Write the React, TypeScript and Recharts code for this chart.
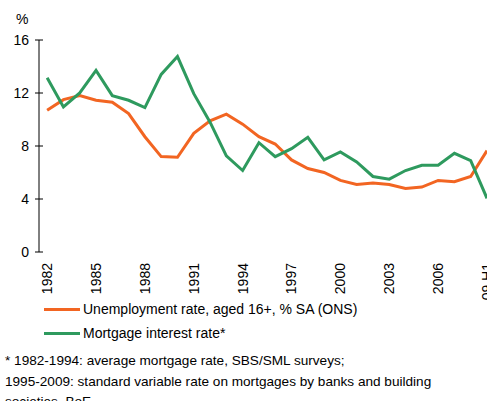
import React from 'react'
import { Line, LineChart, XAxis, YAxis } from 'recharts'

// Unemployment vs mortgage rate, UK, annual 1982-2008 plus 2009 H1
const years = [
  1982, 1983, 1984, 1985, 1986, 1987, 1988, 1989, 1990, 1991, 1992, 1993, 1994, 1995,
  1996, 1997, 1998, 1999, 2000, 2001, 2002, 2003, 2004, 2005, 2006, 2007, 2008, 2009,
]
const unemployment = [
  10.7, 11.5, 11.8, 11.45, 11.3, 10.45, 8.7, 7.2, 7.15, 8.95, 9.9, 10.4, 9.65, 8.7,
  8.15, 6.95, 6.3, 6.0, 5.4, 5.1, 5.2, 5.1, 4.8, 4.9, 5.4, 5.3, 5.7, 7.65,
]
const mortgage = [
  13.15, 10.95, 12.0, 13.7, 11.8, 11.45, 10.9, 13.4, 14.75, 11.95, 9.8, 7.25, 6.15, 8.25,
  7.2, 7.8, 8.65, 6.95, 7.55, 6.8, 5.7, 5.5, 6.15, 6.55, 6.55, 7.45, 6.9, 4.05,
]
const labelYears = [1982, 1985, 1988, 1991, 1994, 1997, 2000, 2003, 2006, 2009]
const yTicks = [0, 4, 8, 12, 16]

const ORANGE = '#f26522'
const GREEN = '#2e9a5e'
const FONT = '"Liberation Sans", Arial, sans-serif'

const data = years.map((year, i) => ({ year, unemployment: unemployment[i], mortgage: mortgage[i] }))
const tickEdges = years.map((y) => y - 0.5)

// ticks cross the axis line, like the original
function MarkTick({ x, y }: { x: number; y: number }) {
  return <line x1={x} x2={x} y1={y - 4} y2={y + 4} stroke="#000" strokeWidth={1} />
}

function ValueTick({ x, y, payload }: { x: number; y: number; payload: { value: number } }) {
  return (
    <g>
      <line x1={x - 4} x2={x + 4} y1={y} y2={y} stroke="#000" strokeWidth={1} />
      <text x={x - 10} y={y} dy="0.35em" textAnchor="end" fontSize={14} fill="#000" fontFamily={FONT}>
        {payload.value}
      </text>
    </g>
  )
}

function YearTick({ x, y, payload }: { x: number; y: number; payload: { value: number } }) {
  const label = payload.value === 2009 ? '2009 H1' : String(payload.value)
  return (
    <text x={x} y={y} transform={`rotate(-90 ${x} ${y})`} textAnchor="end" dy="0.35em" fontSize={14} fill="#000" fontFamily={FONT}>
      {label}
    </text>
  )
}

function LegendRow({ color, text, top }: { color: string; text: string; top: number }) {
  return (
    <div style={{ position: 'absolute', left: 44, top, display: 'flex', alignItems: 'center', height: 18 }}>
      <span style={{ display: 'inline-block', width: 36, height: 3, background: color, marginRight: 3 }} />
      <span style={{ fontSize: 14, whiteSpace: 'nowrap' }}>{text}</span>
    </div>
  )
}

export default function App() {
  return (
    <div style={{ position: 'absolute', left: 0, top: 0, width: 487, height: 401, overflow: 'hidden', background: '#fff', fontFamily: FONT, color: '#000' }}>
      <div style={{ position: 'absolute', left: 16, top: 11, fontSize: 14 }}>%</div>
      <LineChart width={487} height={300} data={data} margin={{ top: 40, right: 0, bottom: 0, left: 0 }}>
        <XAxis
          xAxisId="marks"
          dataKey="year"
          type="number"
          domain={[1981.5, 2009]}
          ticks={tickEdges}
          height={0}
          tickSize={0}
          tickMargin={0}
          tickLine={false}
          tick={MarkTick as never}
          axisLine={{ stroke: '#000' }}
          interval={0}
        />
        <XAxis
          xAxisId="labels"
          dataKey="year"
          type="number"
          domain={[1981.5, 2009]}
          ticks={labelYears}
          height={48}
          tickSize={0}
          tickMargin={11}
          tickLine={false}
          axisLine={false}
          tick={YearTick as never}
          interval={0}
        />
        <YAxis
          width={39}
          domain={[0, 16]}
          ticks={yTicks}
          tickSize={0}
          tickMargin={0}
          tick={ValueTick as never}
          tickLine={false}
          axisLine={{ stroke: '#000' }}
          interval={0}
        />
        <Line xAxisId="labels" type="linear" dataKey="unemployment" stroke={ORANGE} strokeWidth={3} dot={false} isAnimationActive={false} />
        <Line xAxisId="labels" type="linear" dataKey="mortgage" stroke={GREEN} strokeWidth={3} dot={false} isAnimationActive={false} />
      </LineChart>
      <LegendRow color={ORANGE} text="Unemployment rate, aged 16+, % SA (ONS)" top={300} />
      <LegendRow color={GREEN} text="Mortgage interest rate*" top={324} />
      <div style={{ position: 'absolute', left: 5, top: 351, fontSize: 13.6, lineHeight: '20.5px', width: 475 }}>
        * 1982-1994: average mortgage rate, SBS/SML surveys;
        <br />
        1995-2009: standard variable rate on mortgages by banks and building
        <br />
        societies, BoE
      </div>
    </div>
  )
}
